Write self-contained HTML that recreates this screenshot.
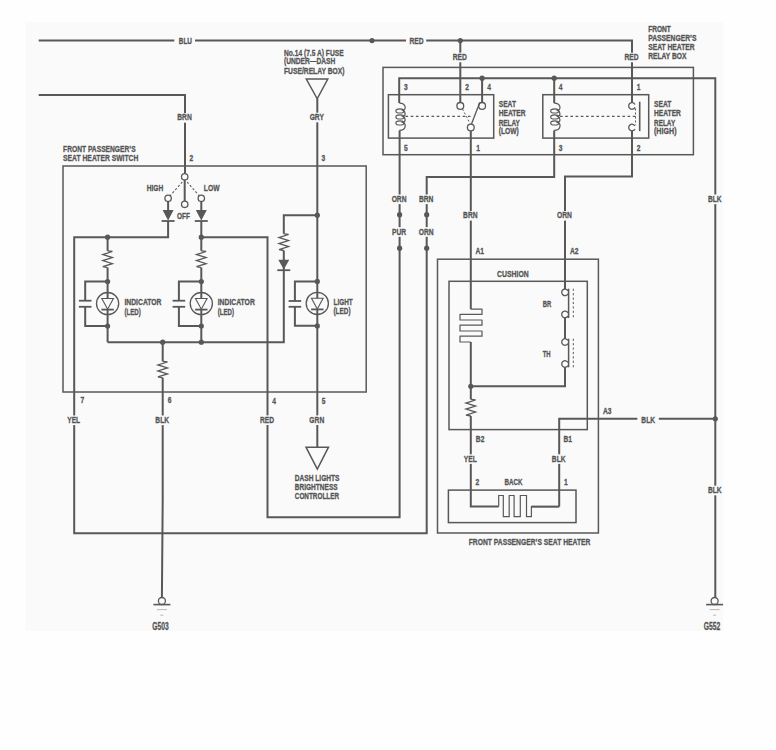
<!DOCTYPE html>
<html><head><meta charset="utf-8"><style>
html,body{margin:0;padding:0;background:#fefefe;}
svg{display:block;}
text{font-family:"Liberation Sans",sans-serif;font-weight:bold;fill:#555555;stroke:#555555;stroke-width:0.3px;}

</style></head><body>
<div class="wrap"><svg width="776" height="750" viewBox="0 0 776 750">
<rect x="25.5" y="22" width="697.5" height="609" fill="#fafafa"/>
<path d="M38.7,40.6 L174.3,40.6" fill="none" stroke="#585858" stroke-width="2.0" stroke-linejoin="miter" />
<path d="M195,40.6 L406,40.6" fill="none" stroke="#585858" stroke-width="2.0" stroke-linejoin="miter" />
<path d="M426.2,40.6 L632,40.6 L632,102.6" fill="none" stroke="#585858" stroke-width="2.0" stroke-linejoin="miter" />
<circle cx="372" cy="40.6" r="2.6" fill="#585858"/>
<circle cx="460.3" cy="40.6" r="2.6" fill="#585858"/>
<text x="178.80" y="44.40" font-size="9.57" textLength="13.20" lengthAdjust="spacingAndGlyphs">BLU</text>
<text x="409.53" y="43.90" font-size="9.57" textLength="14.14" lengthAdjust="spacingAndGlyphs">RED</text>
<path d="M460.3,40.6 L460.3,102.6" fill="none" stroke="#585858" stroke-width="2.0" stroke-linejoin="miter" />
<rect x="451.73" y="52.70" width="17.14" height="9.60" fill="#fafafa"/>
<text x="452.73" y="60.00" font-size="9.57" textLength="14.14" lengthAdjust="spacingAndGlyphs">RED</text>
<rect x="623.43" y="52.70" width="17.14" height="9.60" fill="#fafafa"/>
<text x="624.43" y="60.00" font-size="9.57" textLength="14.14" lengthAdjust="spacingAndGlyphs">RED</text>
<text x="284.00" y="55.60" font-size="8.99" textLength="59.60" lengthAdjust="spacingAndGlyphs">No.14 (7.5 A) FUSE</text>
<text x="284.00" y="64.40" font-size="8.99" textLength="51.20" lengthAdjust="spacingAndGlyphs">(UNDER—DASH</text>
<text x="284.00" y="73.70" font-size="8.99" textLength="60.50" lengthAdjust="spacingAndGlyphs">FUSE/RELAY BOX)</text>
<path d="M306.3,79 L327.8,79 L317.2,98.8 Z" fill="none" stroke="#585858" stroke-width="1.5" stroke-linejoin="miter"/>
<path d="M317.3,98.8 L317.3,298.3" fill="none" stroke="#585858" stroke-width="2.0" stroke-linejoin="miter" />
<path d="M317.3,309.5 L317.3,447.2" fill="none" stroke="#585858" stroke-width="2.0" stroke-linejoin="miter" />
<rect x="308.67" y="112.70" width="17.26" height="9.60" fill="#fafafa"/>
<text x="309.67" y="120.00" font-size="9.57" textLength="14.26" lengthAdjust="spacingAndGlyphs">GRY</text>
<path d="M38.7,95 L185,95 L185,173.6" fill="none" stroke="#585858" stroke-width="2.0" stroke-linejoin="miter" />
<rect x="176.25" y="113.10" width="17.51" height="9.60" fill="#fafafa"/>
<text x="177.25" y="120.40" font-size="9.57" textLength="14.51" lengthAdjust="spacingAndGlyphs">BRN</text>
<rect x="63" y="166" width="303.2" height="226" fill="none" stroke="#585858" stroke-width="1.5"/>
<text x="63.10" y="151.60" font-size="9.42" textLength="72.50" lengthAdjust="spacingAndGlyphs">FRONT PASSENGER&#8217;S</text>
<text x="63.10" y="160.90" font-size="9.42" textLength="75.20" lengthAdjust="spacingAndGlyphs">SEAT HEATER SWITCH</text>
<text x="189.54" y="161.00" font-size="9.57" textLength="3.72" lengthAdjust="spacingAndGlyphs">2</text>
<text x="321.54" y="161.20" font-size="9.57" textLength="3.72" lengthAdjust="spacingAndGlyphs">3</text>
<path d="M184.7,180 L184.7,201" fill="none" stroke="#585858" stroke-width="2.0" stroke-linejoin="miter" />
<circle cx="184.7" cy="176.8" r="3.2" fill="#fafafa" stroke="#585858" stroke-width="1.3"/>
<circle cx="168.1" cy="198.3" r="3.2" fill="#fafafa" stroke="#585858" stroke-width="1.3"/>
<circle cx="201.3" cy="198.3" r="3.2" fill="#fafafa" stroke="#585858" stroke-width="1.3"/>
<circle cx="184.7" cy="204.3" r="3.2" fill="#fafafa" stroke="#585858" stroke-width="1.3"/>
<path d="M182.3,182 L170.3,195.6" fill="none" stroke="#585858" stroke-width="1.1" stroke-linejoin="miter" stroke-dasharray="2.2,2"/>
<path d="M187.1,182 L199.1,195.6" fill="none" stroke="#585858" stroke-width="1.1" stroke-linejoin="miter" stroke-dasharray="2.2,2"/>
<text x="146.70" y="191.25" font-size="9.13" textLength="16.50" lengthAdjust="spacingAndGlyphs">HIGH</text>
<text x="203.80" y="191.25" font-size="9.13" textLength="15.70" lengthAdjust="spacingAndGlyphs">LOW</text>
<text x="176.90" y="219.15" font-size="9.13" textLength="13.00" lengthAdjust="spacingAndGlyphs">OFF</text>
<path d="M168.1,201.5 L168.1,210" fill="none" stroke="#585858" stroke-width="2.0" stroke-linejoin="miter" />
<path d="M162.6,209.9 L173.6,209.9 L168.1,220.4 Z" fill="#585858"/>
<path d="M161.6,221.0 L174.6,221.0" fill="none" stroke="#585858" stroke-width="1.8" stroke-linejoin="miter" />
<path d="M201.3,201.5 L201.3,210" fill="none" stroke="#585858" stroke-width="2.0" stroke-linejoin="miter" />
<path d="M195.8,209.9 L206.8,209.9 L201.3,220.4 Z" fill="#585858"/>
<path d="M194.8,221.0 L207.8,221.0" fill="none" stroke="#585858" stroke-width="1.8" stroke-linejoin="miter" />
<path d="M168.1,221 L168.1,237.2 L74.2,237.2 L74.2,533.3 L426.7,533.3 L426.7,177 L554.2,177 L554.2,130.4" fill="none" stroke="#585858" stroke-width="2.0" stroke-linejoin="miter" />
<path d="M201.3,221 L201.3,237.2" fill="none" stroke="#585858" stroke-width="2.0" stroke-linejoin="miter" />
<path d="M201.3,237.2 L267.5,237.2 L267.5,517.3 L399.6,517.3 L399.6,130.4" fill="none" stroke="#585858" stroke-width="2.0" stroke-linejoin="miter" />
<circle cx="107.6" cy="237.2" r="2.6" fill="#585858"/>
<circle cx="201.3" cy="237.2" r="2.6" fill="#585858"/>
<path d="M107.6,237.2 L107.6,250.8" fill="none" stroke="#585858" stroke-width="2.0" stroke-linejoin="miter" />
<path d="M107.6,250.8 L112.39999999999999,251.5 L102.8,254.54000000000002 L112.39999999999999,257.58000000000004 L102.8,260.62 L112.39999999999999,263.66 L102.8,266.70000000000005 L107.6,267.6" fill="none" stroke="#585858" stroke-width="1.3" stroke-linejoin="miter" />
<path d="M107.6,267.6 L107.6,298.5" fill="none" stroke="#585858" stroke-width="2.0" stroke-linejoin="miter" />
<path d="M107.6,309.5 L107.6,342.2" fill="none" stroke="#585858" stroke-width="2.0" stroke-linejoin="miter" />
<circle cx="107.6" cy="281.5" r="2.6" fill="#585858"/>
<circle cx="107.6" cy="326" r="2.6" fill="#585858"/>
<circle cx="107.6" cy="303.6" r="11.1" fill="none" stroke="#585858" stroke-width="1.3"/>
<path d="M101.8,298.5 L113.39999999999999,298.5 L107.6,309.20000000000005 Z" fill="none" stroke="#585858" stroke-width="1.1"/>
<path d="M101.39999999999999,309.6 L113.8,309.6" fill="none" stroke="#585858" stroke-width="1.8" stroke-linejoin="miter" />
<path d="M107.6,281.5 L85.2,281.5 L85.2,300.7" fill="none" stroke="#585858" stroke-width="2.0" stroke-linejoin="miter" />
<path d="M85.2,306.8 L85.2,326 L107.6,326" fill="none" stroke="#585858" stroke-width="2.0" stroke-linejoin="miter" />
<path d="M78.9,300.7 L91.5,300.7" fill="none" stroke="#585858" stroke-width="1.8" stroke-linejoin="miter" />
<path d="M78.9,306.8 L91.5,306.8" fill="none" stroke="#585858" stroke-width="1.8" stroke-linejoin="miter" />
<text x="124.40" y="305.10" font-size="8.99" textLength="37.10" lengthAdjust="spacingAndGlyphs">INDICATOR</text>
<text x="124.40" y="315.00" font-size="8.99" textLength="16.30" lengthAdjust="spacingAndGlyphs">(LED)</text>
<path d="M201.3,237.2 L201.3,250.8" fill="none" stroke="#585858" stroke-width="2.0" stroke-linejoin="miter" />
<path d="M201.3,250.8 L206.10000000000002,251.5 L196.5,254.54000000000002 L206.10000000000002,257.58000000000004 L196.5,260.62 L206.10000000000002,263.66 L196.5,266.70000000000005 L201.3,267.6" fill="none" stroke="#585858" stroke-width="1.3" stroke-linejoin="miter" />
<path d="M201.3,267.6 L201.3,298.5" fill="none" stroke="#585858" stroke-width="2.0" stroke-linejoin="miter" />
<path d="M201.3,309.5 L201.3,342.2" fill="none" stroke="#585858" stroke-width="2.0" stroke-linejoin="miter" />
<circle cx="201.3" cy="281.5" r="2.6" fill="#585858"/>
<circle cx="201.3" cy="326" r="2.6" fill="#585858"/>
<circle cx="201.3" cy="303.6" r="11.1" fill="none" stroke="#585858" stroke-width="1.3"/>
<path d="M195.5,298.5 L207.10000000000002,298.5 L201.3,309.20000000000005 Z" fill="none" stroke="#585858" stroke-width="1.1"/>
<path d="M195.10000000000002,309.6 L207.5,309.6" fill="none" stroke="#585858" stroke-width="1.8" stroke-linejoin="miter" />
<path d="M201.3,281.5 L178.90000000000003,281.5 L178.90000000000003,300.7" fill="none" stroke="#585858" stroke-width="2.0" stroke-linejoin="miter" />
<path d="M178.90000000000003,306.8 L178.90000000000003,326 L201.3,326" fill="none" stroke="#585858" stroke-width="2.0" stroke-linejoin="miter" />
<path d="M172.60000000000002,300.7 L185.20000000000005,300.7" fill="none" stroke="#585858" stroke-width="1.8" stroke-linejoin="miter" />
<path d="M172.60000000000002,306.8 L185.20000000000005,306.8" fill="none" stroke="#585858" stroke-width="1.8" stroke-linejoin="miter" />
<text x="217.70" y="305.10" font-size="8.99" textLength="37.10" lengthAdjust="spacingAndGlyphs">INDICATOR</text>
<text x="217.70" y="315.00" font-size="8.99" textLength="16.30" lengthAdjust="spacingAndGlyphs">(LED)</text>
<path d="M107.6,342.2 L283.8,342.2 L283.8,250.5" fill="none" stroke="#585858" stroke-width="2.0" stroke-linejoin="miter" />
<path d="M283.8,233.8 L283.8,215.2 L317.3,215.2" fill="none" stroke="#585858" stroke-width="2.0" stroke-linejoin="miter" />
<circle cx="162.7" cy="342.2" r="2.6" fill="#585858"/>
<circle cx="201.3" cy="342.2" r="2.6" fill="#585858"/>
<circle cx="317.3" cy="215.2" r="2.6" fill="#585858"/>
<path d="M283.8,233.8 L288.6,234.5 L279.0,237.52 L288.6,240.54 L279.0,243.56 L288.6,246.57999999999998 L279.0,249.6 L283.8,250.5" fill="none" stroke="#585858" stroke-width="1.3" stroke-linejoin="miter" />
<path d="M278.3,259.7 L289.3,259.7 L283.8,269.6 Z" fill="#585858"/>
<path d="M277.3,270.20000000000005 L290.3,270.20000000000005" fill="none" stroke="#585858" stroke-width="1.8" stroke-linejoin="miter" />
<circle cx="317.3" cy="281.4" r="2.6" fill="#585858"/>
<circle cx="317.3" cy="325.9" r="2.6" fill="#585858"/>
<circle cx="317.3" cy="303.4" r="11.1" fill="none" stroke="#585858" stroke-width="1.3"/>
<path d="M311.5,298.29999999999995 L323.1,298.29999999999995 L317.3,309.0 Z" fill="none" stroke="#585858" stroke-width="1.1"/>
<path d="M311.1,309.4 L323.5,309.4" fill="none" stroke="#585858" stroke-width="1.8" stroke-linejoin="miter" />
<path d="M317.3,281.5 L294.9,281.5 L294.9,301" fill="none" stroke="#585858" stroke-width="2.0" stroke-linejoin="miter" />
<path d="M294.9,306.8 L294.9,325.7 L317.3,325.7" fill="none" stroke="#585858" stroke-width="2.0" stroke-linejoin="miter" />
<path d="M288.59999999999997,301 L301.2,301" fill="none" stroke="#585858" stroke-width="1.8" stroke-linejoin="miter" />
<path d="M288.59999999999997,306.8 L301.2,306.8" fill="none" stroke="#585858" stroke-width="1.8" stroke-linejoin="miter" />
<text x="333.50" y="305.20" font-size="9.42" textLength="19.30" lengthAdjust="spacingAndGlyphs">LIGHT</text>
<text x="333.50" y="314.20" font-size="8.99" textLength="17.00" lengthAdjust="spacingAndGlyphs">(LED)</text>
<path d="M162.7,342.2 L162.7,361.3" fill="none" stroke="#585858" stroke-width="2.0" stroke-linejoin="miter" />
<path d="M162.7,361.3 L167.5,362.0 L157.89999999999998,364.98 L167.5,367.96000000000004 L157.89999999999998,370.94 L167.5,373.92 L157.89999999999998,376.90000000000003 L162.7,377.8" fill="none" stroke="#585858" stroke-width="1.3" stroke-linejoin="miter" />
<path d="M162.7,377.8 L162.7,500 L161.9,597.5" fill="none" stroke="#585858" stroke-width="2.0" stroke-linejoin="miter" />
<text x="80.44" y="403.00" font-size="9.57" textLength="3.72" lengthAdjust="spacingAndGlyphs">7</text>
<text x="167.64" y="403.00" font-size="9.57" textLength="3.72" lengthAdjust="spacingAndGlyphs">6</text>
<text x="272.34" y="403.60" font-size="9.57" textLength="3.72" lengthAdjust="spacingAndGlyphs">4</text>
<text x="321.84" y="403.60" font-size="9.57" textLength="3.72" lengthAdjust="spacingAndGlyphs">5</text>
<rect x="66.19" y="415.50" width="16.02" height="9.60" fill="#fafafa"/>
<text x="67.19" y="422.80" font-size="9.57" textLength="13.02" lengthAdjust="spacingAndGlyphs">YEL</text>
<rect x="154.32" y="415.50" width="16.76" height="9.60" fill="#fafafa"/>
<text x="155.32" y="422.80" font-size="9.57" textLength="13.76" lengthAdjust="spacingAndGlyphs">BLK</text>
<rect x="258.93" y="415.40" width="17.14" height="9.60" fill="#fafafa"/>
<text x="259.93" y="422.70" font-size="9.57" textLength="14.14" lengthAdjust="spacingAndGlyphs">RED</text>
<rect x="308.36" y="415.40" width="17.88" height="9.60" fill="#fafafa"/>
<text x="309.36" y="422.70" font-size="9.57" textLength="14.88" lengthAdjust="spacingAndGlyphs">GRN</text>
<circle cx="161.9" cy="601.0" r="3.5" fill="#fafafa" stroke="#585858" stroke-width="1.3"/>
<path d="M153.4,604.6 L170.4,604.6" fill="none" stroke="#585858" stroke-width="1.6" stroke-linejoin="miter" />
<path d="M156.9,609.6 L166.9,609.6" fill="none" stroke="#585858" stroke-width="0.9" stroke-linejoin="miter" stroke-opacity="0.45"/>
<path d="M160.4,615.2 L163.4,615.2" fill="none" stroke="#585858" stroke-width="0.9" stroke-linejoin="miter" stroke-opacity="0.45"/>
<text x="152.30" y="630.00" font-size="10.14" textLength="16.40" lengthAdjust="spacingAndGlyphs">G503</text>
<path d="M306,447.2 L328.5,447.2 L317.3,469 Z" fill="none" stroke="#585858" stroke-width="1.5"/>
<text x="294.80" y="480.80" font-size="8.70" textLength="44.70" lengthAdjust="spacingAndGlyphs">DASH LIGHTS</text>
<text x="294.80" y="489.70" font-size="8.70" textLength="42.80" lengthAdjust="spacingAndGlyphs">BRIGHTNESS</text>
<text x="294.80" y="498.60" font-size="8.70" textLength="44.30" lengthAdjust="spacingAndGlyphs">CONTROLLER</text>
<rect x="383" y="67.4" width="310.4" height="87.29999999999998" fill="none" stroke="#585858" stroke-width="1.5"/>
<path d="M399.2,103.1 L399.2,78.2 L715.3,78.2 L715.3,597.5" fill="none" stroke="#585858" stroke-width="2.0" stroke-linejoin="miter" />
<circle cx="482.1" cy="78.2" r="2.6" fill="#585858"/>
<circle cx="554.2" cy="78.2" r="2.6" fill="#585858"/>
<circle cx="715.3" cy="418.8" r="2.6" fill="#585858"/>
<path d="M482.1,78.2 L482.1,102.6" fill="none" stroke="#585858" stroke-width="2.0" stroke-linejoin="miter" />
<path d="M554.2,78.2 L554.2,103.1" fill="none" stroke="#585858" stroke-width="2.0" stroke-linejoin="miter" />
<rect x="388.4" y="94.7" width="105.30000000000001" height="43.39999999999999" fill="none" stroke="#585858" stroke-width="1.5"/>
<rect x="542.8" y="94.7" width="105.90000000000009" height="43.39999999999999" fill="none" stroke="#585858" stroke-width="1.5"/>
<path d="M399.4,103.1 C406.4,103.1 406.4,109.9 402.9,110.4 C405.9,111.9 405.9,115.9 402.9,116.4 C405.9,117.9 405.9,121.9 402.9,122.4 C406.4,123.9 406.4,130.4 399.4,130.4" fill="none" stroke="#585858" stroke-width="1.2"/>
<ellipse cx="399.9" cy="110.9" rx="4.0" ry="2.1" fill="none" stroke="#585858" stroke-width="1.2"/>
<ellipse cx="399.9" cy="116.9" rx="4.0" ry="2.1" fill="none" stroke="#585858" stroke-width="1.2"/>
<ellipse cx="399.9" cy="122.9" rx="4.0" ry="2.1" fill="none" stroke="#585858" stroke-width="1.2"/>
<path d="M554.2,103.1 C561.2,103.1 561.2,109.9 557.7,110.4 C560.7,111.9 560.7,115.9 557.7,116.4 C560.7,117.9 560.7,121.9 557.7,122.4 C561.2,123.9 561.2,130.4 554.2,130.4" fill="none" stroke="#585858" stroke-width="1.2"/>
<ellipse cx="554.7" cy="110.9" rx="4.0" ry="2.1" fill="none" stroke="#585858" stroke-width="1.2"/>
<ellipse cx="554.7" cy="116.9" rx="4.0" ry="2.1" fill="none" stroke="#585858" stroke-width="1.2"/>
<ellipse cx="554.7" cy="122.9" rx="4.0" ry="2.1" fill="none" stroke="#585858" stroke-width="1.2"/>
<circle cx="460.3" cy="105.9" r="3.4" fill="#fafafa" stroke="#585858" stroke-width="1.3"/>
<circle cx="482.1" cy="105.9" r="3.4" fill="#fafafa" stroke="#585858" stroke-width="1.3"/>
<circle cx="470.8" cy="127.5" r="3.4" fill="#fafafa" stroke="#585858" stroke-width="1.3"/>
<path d="M471.5,124 L479.8,102.5" fill="none" stroke="#585858" stroke-width="1.3" stroke-linejoin="miter" />
<path d="M462.5,109 L470,123.5" fill="none" stroke="#585858" stroke-width="1.0" stroke-linejoin="miter" stroke-dasharray="2,2"/>
<path d="M405.5,116.4 L473,116.4" fill="none" stroke="#585858" stroke-width="1.1" stroke-linejoin="miter" stroke-dasharray="2.6,2.6"/>
<path d="M470.8,131 L470.8,309.2" fill="none" stroke="#585858" stroke-width="2.0" stroke-linejoin="miter" />
<path d="M634.97,104.44800000000001 A3.3,3.3 0 1 0 634.97,107.352" fill="none" stroke="#585858" stroke-width="1.3"/>
<path d="M634.97,126.048 A3.3,3.3 0 1 0 634.97,128.952" fill="none" stroke="#585858" stroke-width="1.3"/>
<path d="M639.7,101.7 L639.7,131.1" fill="none" stroke="#585858" stroke-width="1.6" stroke-linejoin="miter" />
<path d="M560,116.4 L635.5,116.4" fill="none" stroke="#585858" stroke-width="1.1" stroke-linejoin="miter" stroke-dasharray="2.6,2.6"/>
<path d="M635.5,108.5 L635.5,125" fill="none" stroke="#585858" stroke-width="1.0" stroke-linejoin="miter" stroke-dasharray="2,2"/>
<path d="M632,131 L632,176.6 L565,176.6 L565,288.9" fill="none" stroke="#585858" stroke-width="2.0" stroke-linejoin="miter" />
<text x="403.94" y="90.00" font-size="9.57" textLength="3.72" lengthAdjust="spacingAndGlyphs">3</text>
<text x="465.14" y="90.00" font-size="9.57" textLength="3.72" lengthAdjust="spacingAndGlyphs">2</text>
<text x="487.14" y="90.00" font-size="9.57" textLength="3.72" lengthAdjust="spacingAndGlyphs">4</text>
<text x="403.94" y="150.50" font-size="9.57" textLength="3.72" lengthAdjust="spacingAndGlyphs">5</text>
<text x="476.24" y="150.50" font-size="9.57" textLength="3.72" lengthAdjust="spacingAndGlyphs">1</text>
<text x="558.64" y="90.00" font-size="9.57" textLength="3.72" lengthAdjust="spacingAndGlyphs">4</text>
<text x="636.64" y="90.00" font-size="9.57" textLength="3.72" lengthAdjust="spacingAndGlyphs">1</text>
<text x="558.64" y="150.50" font-size="9.57" textLength="3.72" lengthAdjust="spacingAndGlyphs">3</text>
<text x="636.64" y="150.50" font-size="9.57" textLength="3.72" lengthAdjust="spacingAndGlyphs">2</text>
<text x="498.70" y="107.30" font-size="9.13" textLength="17.30" lengthAdjust="spacingAndGlyphs">SEAT</text>
<text x="498.70" y="116.30" font-size="9.13" textLength="26.90" lengthAdjust="spacingAndGlyphs">HEATER</text>
<text x="498.70" y="125.60" font-size="9.13" textLength="21.20" lengthAdjust="spacingAndGlyphs">RELAY</text>
<text x="498.70" y="134.30" font-size="9.13" textLength="20.00" lengthAdjust="spacingAndGlyphs">(LOW)</text>
<text x="654.00" y="107.30" font-size="9.13" textLength="17.30" lengthAdjust="spacingAndGlyphs">SEAT</text>
<text x="654.00" y="116.30" font-size="9.13" textLength="26.90" lengthAdjust="spacingAndGlyphs">HEATER</text>
<text x="654.00" y="125.60" font-size="9.13" textLength="21.20" lengthAdjust="spacingAndGlyphs">RELAY</text>
<text x="654.00" y="134.30" font-size="9.13" textLength="22.50" lengthAdjust="spacingAndGlyphs">(HIGH)</text>
<text x="648.20" y="32.20" font-size="8.26" textLength="22.70" lengthAdjust="spacingAndGlyphs">FRONT</text>
<text x="648.20" y="41.10" font-size="8.26" textLength="48.30" lengthAdjust="spacingAndGlyphs">PASSENGER&#8217;S</text>
<text x="648.20" y="50.10" font-size="8.26" textLength="46.40" lengthAdjust="spacingAndGlyphs">SEAT HEATER</text>
<text x="648.20" y="59.20" font-size="8.26" textLength="38.20" lengthAdjust="spacingAndGlyphs">RELAY BOX</text>
<rect x="390.66" y="194.50" width="17.88" height="9.60" fill="#fafafa"/>
<text x="391.66" y="201.80" font-size="9.57" textLength="14.88" lengthAdjust="spacingAndGlyphs">ORN</text>
<rect x="417.95" y="194.50" width="17.51" height="9.60" fill="#fafafa"/>
<text x="418.95" y="201.80" font-size="9.57" textLength="14.51" lengthAdjust="spacingAndGlyphs">BRN</text>
<rect x="391.03" y="227.20" width="17.14" height="9.60" fill="#fafafa"/>
<text x="392.03" y="234.50" font-size="9.57" textLength="14.14" lengthAdjust="spacingAndGlyphs">PUR</text>
<rect x="417.76" y="227.20" width="17.88" height="9.60" fill="#fafafa"/>
<text x="418.76" y="234.50" font-size="9.57" textLength="14.88" lengthAdjust="spacingAndGlyphs">ORN</text>
<rect x="462.05" y="211.00" width="17.51" height="9.60" fill="#fafafa"/>
<text x="463.05" y="218.30" font-size="9.57" textLength="14.51" lengthAdjust="spacingAndGlyphs">BRN</text>
<rect x="556.06" y="211.00" width="17.88" height="9.60" fill="#fafafa"/>
<text x="557.06" y="218.30" font-size="9.57" textLength="14.88" lengthAdjust="spacingAndGlyphs">ORN</text>
<rect x="706.92" y="194.50" width="16.76" height="9.60" fill="#fafafa"/>
<text x="707.92" y="201.80" font-size="9.57" textLength="13.76" lengthAdjust="spacingAndGlyphs">BLK</text>
<rect x="706.92" y="485.70" width="16.76" height="9.60" fill="#fafafa"/>
<text x="707.92" y="493.00" font-size="9.57" textLength="13.76" lengthAdjust="spacingAndGlyphs">BLK</text>
<circle cx="399.6" cy="214.7" r="2.6" fill="#585858"/>
<circle cx="426.7" cy="214.7" r="2.6" fill="#585858"/>
<circle cx="399.6" cy="248.2" r="2.6" fill="#585858"/>
<circle cx="426.7" cy="248.2" r="2.6" fill="#585858"/>
<rect x="437.5" y="259.2" width="160.89999999999998" height="273.8" fill="none" stroke="#585858" stroke-width="1.5"/>
<rect x="449" y="281.3" width="138.29999999999995" height="148.3" fill="none" stroke="#585858" stroke-width="1.5"/>
<text x="475.52" y="254.30" font-size="9.57" textLength="8.56" lengthAdjust="spacingAndGlyphs">A1</text>
<text x="570.02" y="254.30" font-size="9.57" textLength="8.56" lengthAdjust="spacingAndGlyphs">A2</text>
<text x="497.10" y="276.90" font-size="9.57" textLength="31.60" lengthAdjust="spacingAndGlyphs">CUSHION</text>
<path d="M470.8,309.2 L482,309.2 L482,314.4 L460,314.4 L460,320 L482,320 L482,325.2 L460,325.2 L460,331 L482,331 L482,336.2 L460,336.2 L460,342 L470.8,342" fill="none" stroke="#585858" stroke-width="1.2" stroke-linejoin="round"/>
<path d="M470.8,342 L470.8,399.3" fill="none" stroke="#585858" stroke-width="2.0" stroke-linejoin="miter" />
<path d="M470.8,399.3 L475.6,400.0 L466.0,403.02 L475.6,406.04 L466.0,409.06 L475.6,412.08000000000004 L466.0,415.1 L470.8,416" fill="none" stroke="#585858" stroke-width="1.3" stroke-linejoin="miter" />
<path d="M470.8,416 L470.8,506.6 L498.7,506.6" fill="none" stroke="#585858" stroke-width="2.0" stroke-linejoin="miter" />
<circle cx="470.8" cy="386.3" r="2.6" fill="#585858"/>
<path d="M470.8,386.3 L565,386.3 L565,367.3" fill="none" stroke="#585858" stroke-width="2.0" stroke-linejoin="miter" />
<path d="M567.97,290.848 A3.3,3.3 0 1 0 567.97,293.752" fill="none" stroke="#585858" stroke-width="1.3"/>
<path d="M567.97,312.948 A3.3,3.3 0 1 0 567.97,315.852" fill="none" stroke="#585858" stroke-width="1.3"/>
<path d="M568.6,288.7 L568.6,318" fill="none" stroke="#585858" stroke-width="1.5" stroke-linejoin="miter" />
<path d="M573.3,288.7 L573.3,318" fill="none" stroke="#585858" stroke-width="1.0" stroke-linejoin="miter" stroke-dasharray="2.2,2.2"/>
<path d="M567.97,340.548 A3.3,3.3 0 1 0 567.97,343.452" fill="none" stroke="#585858" stroke-width="1.3"/>
<path d="M567.97,362.548 A3.3,3.3 0 1 0 567.97,365.452" fill="none" stroke="#585858" stroke-width="1.3"/>
<path d="M568.6,338.7 L568.6,367.3" fill="none" stroke="#585858" stroke-width="1.5" stroke-linejoin="miter" />
<path d="M573.3,338.7 L573.3,367.3" fill="none" stroke="#585858" stroke-width="1.0" stroke-linejoin="miter" stroke-dasharray="2.2,2.2"/>
<path d="M565,317.7 L565,338.7" fill="none" stroke="#585858" stroke-width="2.0" stroke-linejoin="miter" />
<text x="542.70" y="307.20" font-size="9.28" textLength="8.60" lengthAdjust="spacingAndGlyphs">BR</text>
<text x="542.70" y="356.90" font-size="9.28" textLength="8.00" lengthAdjust="spacingAndGlyphs">TH</text>
<path d="M559.2,506.6 L559.2,418.8 L637.3,418.8" fill="none" stroke="#585858" stroke-width="2.0" stroke-linejoin="miter" />
<path d="M658.8,418.8 L715.3,418.8" fill="none" stroke="#585858" stroke-width="2.0" stroke-linejoin="miter" />
<text x="641.32" y="422.60" font-size="9.57" textLength="13.76" lengthAdjust="spacingAndGlyphs">BLK</text>
<text x="603.02" y="414.00" font-size="9.57" textLength="8.56" lengthAdjust="spacingAndGlyphs">A3</text>
<text x="475.82" y="442.30" font-size="9.57" textLength="8.56" lengthAdjust="spacingAndGlyphs">B2</text>
<text x="563.42" y="442.30" font-size="9.57" textLength="8.56" lengthAdjust="spacingAndGlyphs">B1</text>
<rect x="462.79" y="454.30" width="16.02" height="9.60" fill="#fafafa"/>
<text x="463.79" y="461.60" font-size="9.57" textLength="13.02" lengthAdjust="spacingAndGlyphs">YEL</text>
<rect x="550.82" y="454.30" width="16.76" height="9.60" fill="#fafafa"/>
<text x="551.82" y="461.60" font-size="9.57" textLength="13.76" lengthAdjust="spacingAndGlyphs">BLK</text>
<rect x="448.4" y="490.1" width="127.60000000000002" height="32.5" fill="none" stroke="#585858" stroke-width="1.5"/>
<text x="475.44" y="485.40" font-size="9.57" textLength="3.72" lengthAdjust="spacingAndGlyphs">2</text>
<text x="564.04" y="485.40" font-size="9.57" textLength="3.72" lengthAdjust="spacingAndGlyphs">1</text>
<text x="504.50" y="485.25" font-size="9.13" textLength="18.10" lengthAdjust="spacingAndGlyphs">BACK</text>
<path d="M498.7,506.6 L498.7,495.5 L503.3,495.5 L503.3,516.7 L509.2,516.7 L509.2,495.5 L514.1,495.5 L514.1,516.7 L520.3,516.7 L520.3,495.5 L526.5,495.5 L526.5,516.7 L531.4,516.7 L531.4,506.6 L559.2,506.6" fill="none" stroke="#585858" stroke-width="1.2"/>
<path d="M531.4,506.6 L559.2,506.6" fill="none" stroke="#585858" stroke-width="2.0" stroke-linejoin="miter" />
<text x="468.70" y="545.15" font-size="9.13" textLength="121.70" lengthAdjust="spacingAndGlyphs">FRONT PASSENGER&#8217;S SEAT HEATER</text>
<circle cx="714.6" cy="601" r="3.5" fill="#fafafa" stroke="#585858" stroke-width="1.3"/>
<path d="M706.1,604.6 L723.1,604.6" fill="none" stroke="#585858" stroke-width="1.6" stroke-linejoin="miter" />
<path d="M709.6,609.6 L719.6,609.6" fill="none" stroke="#585858" stroke-width="0.9" stroke-linejoin="miter" stroke-opacity="0.45"/>
<path d="M713.1,615.2 L716.1,615.2" fill="none" stroke="#585858" stroke-width="0.9" stroke-linejoin="miter" stroke-opacity="0.45"/>
<text x="703.85" y="630.40" font-size="10.14" textLength="16.50" lengthAdjust="spacingAndGlyphs">G552</text>
</svg></div></body></html>
